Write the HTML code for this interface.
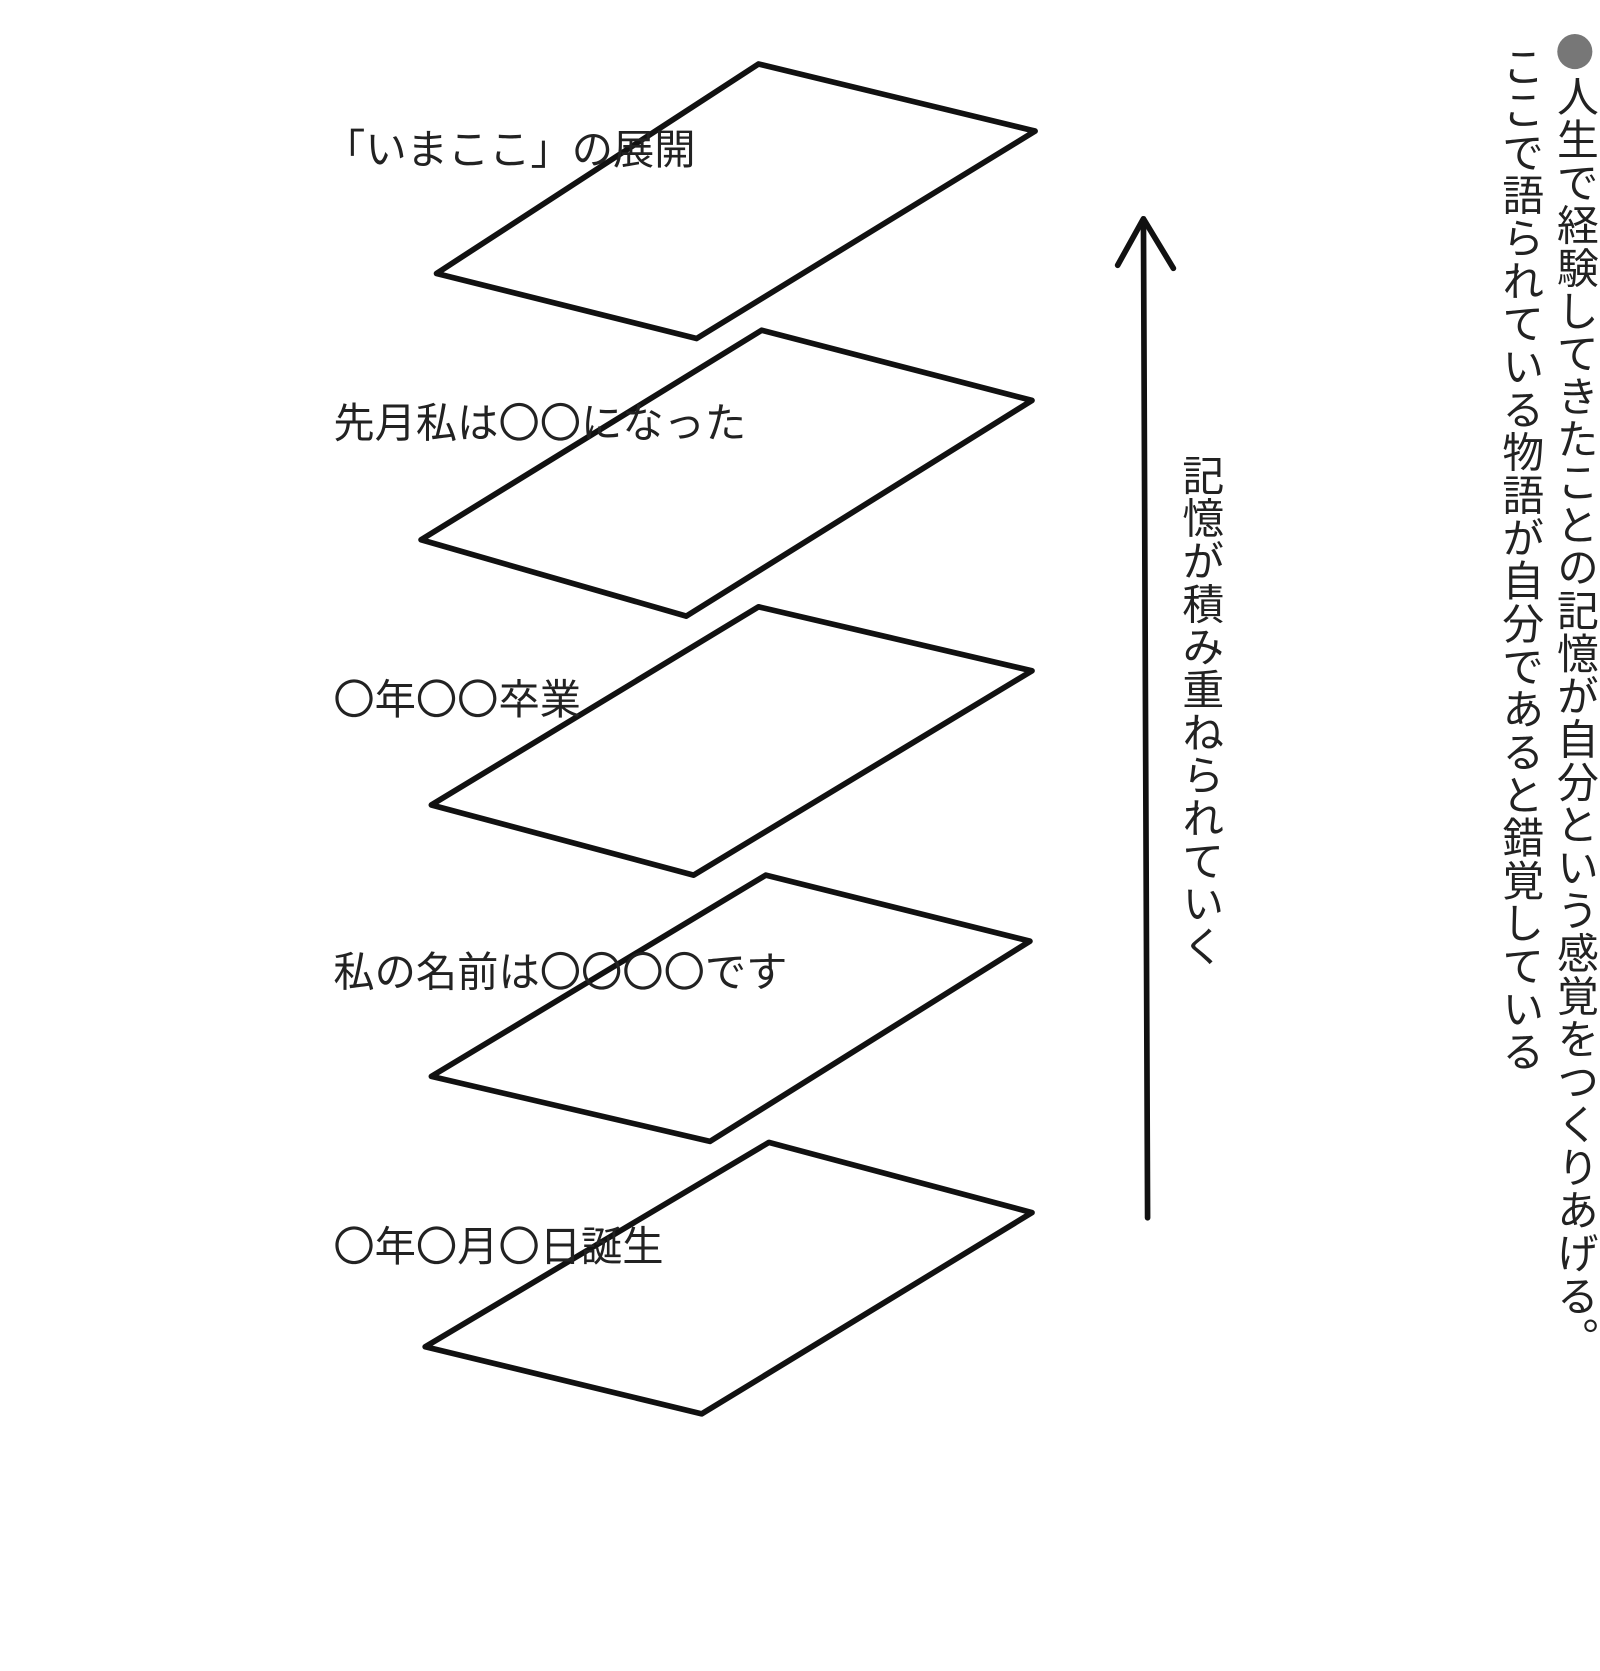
<!DOCTYPE html>
<html><head><meta charset="utf-8">
<style>
html,body{margin:0;padding:0;background:#fff;}
body{width:1600px;height:1619px;position:relative;overflow:hidden;font-family:"Liberation Sans","Noto Sans CJK JP",sans-serif;color:#222;}
#wrap{position:absolute;left:0;top:0;width:1600px;height:1619px;transform:scale(1.032);transform-origin:0 0;}
.lbl{position:absolute;font-size:40px;white-space:nowrap;line-height:1;}
.vt{position:absolute;writing-mode:vertical-rl;font-size:40.5px;line-height:1;letter-spacing:1px;white-space:nowrap;}
.dot{display:inline-block;width:34px;height:34px;border-radius:50%;background:#777;margin-bottom:6px;}
</style></head><body>
<div id="wrap">
<svg width="1600" height="1619" style="position:absolute;left:0;top:0">
<g fill="none" stroke="#111" stroke-width="5.5" stroke-linejoin="round" stroke-linecap="round">
<polygon points="735,62 1003,127 675,328 423,265"/>
<polygon points="738,320 1000,388 665,597 408,523"/>
<polygon points="735,588 1000,650 672,848 418,780"/>
<polygon points="742,848 998,912 688,1106 418,1043"/>
<polygon points="745,1107 1000,1175 680,1370 412,1305"/>
<g>
<line x1="1112" y1="1180" x2="1108" y2="214"/>
<polyline points="1083,257 1108,212 1137,260"/>
</g>
</g>
</svg>
<div class="lbl" style="left:314px;top:126px">「いまここ」の展開</div>
<div class="lbl" style="left:323px;top:391px">先月私は〇〇になった</div>
<div class="lbl" style="left:323px;top:659px">〇年〇〇卒業</div>
<div class="lbl" style="left:323px;top:923px">私の名前は〇〇〇〇です</div>
<div class="lbl" style="left:323px;top:1189px">〇年〇月〇日誕生</div>
<div class="vt" style="left:1142px;top:440px">記憶が積み重ねられていく</div>
<div class="vt" style="left:1505px;top:33px"><span class="dot"></span>人生で経験してきたことの記憶が自分という感覚をつくりあげる。</div>
<div class="vt" style="left:1452px;top:44px">ここで語られている物語が自分であると錯覚している</div>
</div>
</body></html>
